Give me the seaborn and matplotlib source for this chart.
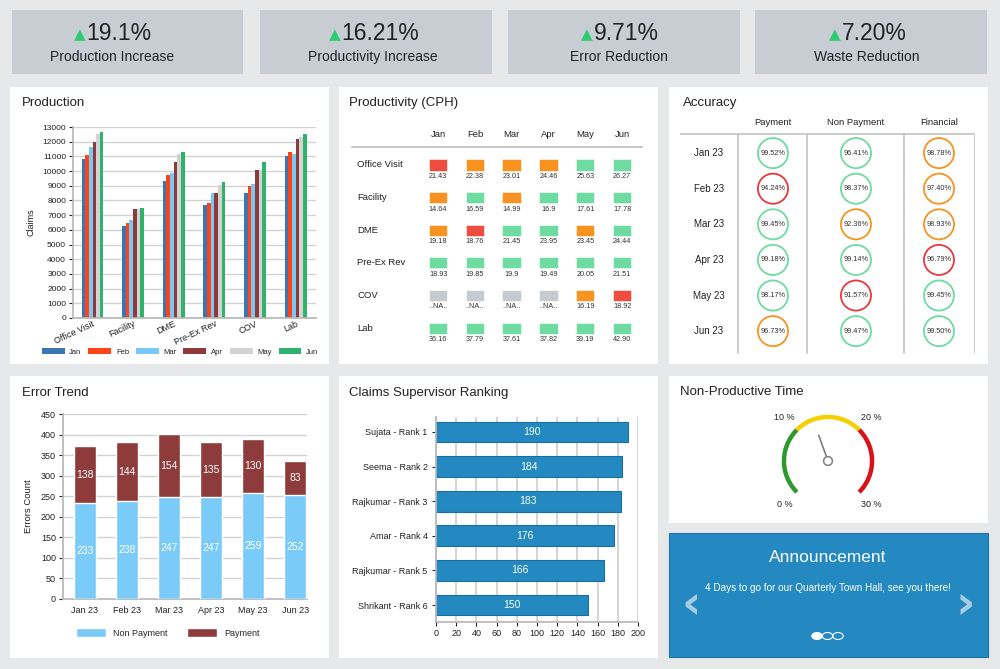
import numpy as np
import pandas as pd
import matplotlib
matplotlib.use('Agg')
import matplotlib.pyplot as plt
from matplotlib.patches import Rectangle, Patch, Circle
from matplotlib.text import Annotation
import seaborn as sns

W, H = 1000, 669

# KPI strip
kpi_values = ['19.1%', '16.21%', '9.71%', '7.20%']
kpi_labels = ['Production Increase', 'Productivity Increase', 'Error Reduction', 'Waste Reduction']

# Production (claims)
prod_categories = ['Office Visit', 'Facility', 'DME', 'Pre-Ex Rev', 'COV', 'Lab']
months = ['Jan', 'Feb', 'Mar', 'Apr', 'May', 'Jun']
prod_jan = [10800, 6250, 9300, 7700, 8500, 11000]
prod_feb = [11100, 6500, 9750, 7800, 9000, 11300]
prod_mar = [11650, 6700, 9900, 8500, 9150, 11150]
prod_apr = [12000, 7450, 10600, 8500, 10100, 12150]
prod_may = [12500, 7400, 11150, 9050, 10100, 12300]
prod_jun = [12650, 7500, 11300, 9250, 10650, 12500]
prod_colors = ['#3b76b3', '#ff4316', '#79c9f7', '#8e3a3b', '#d3d3d3', '#2fb26b']

# Productivity (CPH), None = ..NA..
cph_rows = ['Office Visit', 'Facility', 'DME', 'Pre-Ex Rev', 'COV', 'Lab']
cph_office = ['21.43', '22.38', '23.01', '24.46', '25.63', '26.27']
cph_facility = ['14.64', '16.59', '14.99', '16.9', '17.61', '17.78']
cph_dme = ['19.18', '18.76', '21.45', '23.95', '23.45', '24.44']
cph_preex = ['18.93', '19.85', '19.9', '19.49', '20.05', '21.51']
cph_cov = [None, None, None, None, '16.19', '18.92']
cph_lab = ['36.16', '37.79', '37.61', '37.82', '39.19', '42.90']
cph_status_office = ['r', 'o', 'o', 'o', 'g', 'g']
cph_status_facility = ['o', 'g', 'o', 'g', 'g', 'g']
cph_status_dme = ['o', 'r', 'g', 'g', 'o', 'g']
cph_status_preex = ['g', 'g', 'g', 'g', 'g', 'g']
cph_status_cov = ['n', 'n', 'n', 'n', 'o', 'r']
cph_status_lab = ['g', 'g', 'g', 'g', 'g', 'g']
cph_palette = {'r': '#ef4b3e', 'o': '#f8931f', 'g': '#6edba1', 'n': '#c6cbd2'}

# Accuracy
acc_months = ['Jan 23', 'Feb 23', 'Mar 23', 'Apr 23', 'May 23', 'Jun 23']
acc_columns = ['Payment', 'Non Payment', 'Financial']
acc_payment = [99.52, 94.24, 99.45, 99.18, 98.17, 96.73]
acc_non_payment = [96.41, 98.37, 92.36, 99.14, 91.57, 99.47]
acc_financial = [98.78, 97.40, 98.93, 96.79, 99.45, 99.50]
acc_status_payment = ['g', 'r', 'g', 'g', 'g', 'o']
acc_status_non_payment = ['g', 'g', 'o', 'g', 'r', 'g']
acc_status_financial = ['o', 'o', 'o', 'r', 'g', 'g']
acc_palette = {'r': '#e8383d', 'o': '#f7931e', 'g': '#6edba1'}

# Error trend
err_months = ['Jan 23', 'Feb 23', 'Mar 23', 'Apr 23', 'May 23', 'Jun 23']
err_non_payment = [233, 238, 247, 247, 259, 252]
err_payment = [138, 144, 154, 135, 130, 83]

# Supervisor ranking
rank_names = ['Sujata - Rank 1', 'Seema - Rank 2', 'Rajkumar - Rank 3',
              'Amar - Rank 4', 'Rajkumar - Rank 5', 'Shrikant - Rank 6']
rank_scores = [190, 184, 183, 176, 166, 150]

# Gauge
gauge_bands = [0, 10, 20, 30]
gauge_colors = ['#2e9a2e', '#f5d000', '#d8121b']
gauge_value = 12.8

sns.set_theme(style='white')
plt.rcParams['font.family'] = ['Liberation Sans', 'DejaVu Sans']
TXT = '#222222'

fig = plt.figure(figsize=(W / 100, H / 100), dpi=100)
fig.patch.set_facecolor('#e7e8ea')


def rect(x0, y0, x1, y1):
    """pixel box -> figure fraction"""
    return [x0 / W, 1 - y1 / H, (x1 - x0) / W, (y1 - y0) / H]


def box(x0, y0, x1, y1, color, ec='none'):
    r = rect(x0, y0, x1, y1)
    fig.add_artist(Rectangle((r[0], r[1]), r[2], r[3], transform=fig.transFigure,
                             facecolor=color, edgecolor=ec, lw=0.8, zorder=-1))


def ftext(x, y, s, **kw):
    return fig.text(x / W, 1 - y / H, s, **kw)


def new_ax(x0, y0, x1, y1):
    ax = fig.add_axes(rect(x0, y0, x1, y1))
    ax.patch.set_alpha(0)
    return ax


# ---- KPI boxes ----
kpi_boxes = [(12, 243), (260, 492), (508, 740), (755, 987)]
kpi_centers = [112, 373, 619, 867]
for (x0, x1), cx, val, lab in zip(kpi_boxes, kpi_centers, kpi_values, kpi_labels):
    box(x0, 10, x1, 74, '#c7cdd3')
    t = ftext(cx + 7, 33, val, ha='center', va='center', fontsize=16.5, color=TXT)
    fig.add_artist(Annotation('▲', xy=(-0.01, 0.42), xycoords=t, ha='right', va='center',
                              fontsize=11, color='#2ecc71', family='DejaVu Sans'))
    ftext(cx, 57, lab, ha='center', va='center', fontsize=10, color=TXT)

# ---- panels ----
for p in [(10, 87, 329, 364), (339, 87, 658, 364), (669, 87, 988, 364),
          (10, 376, 329, 658), (339, 376, 658, 658), (669, 376, 988, 523)]:
    box(*p, 'white')
box(669, 533, 988, 657, '#2389c0', ec='#1c78ab')

ftext(22, 103, 'Production', fontsize=9.5, va='center', color=TXT)
ftext(349, 103, 'Productivity (CPH)', fontsize=9.5, va='center', color=TXT)
ftext(683, 103, 'Accuracy', fontsize=9.5, va='center', color=TXT)
ftext(22, 393, 'Error Trend', fontsize=9.5, va='center', color=TXT)
ftext(349, 393, 'Claims Supervisor Ranking', fontsize=9.5, va='center', color=TXT)
ftext(680, 392, 'Non-Productive Time', fontsize=9.5, va='center', color=TXT)

# ---- Production ----
ax = new_ax(73, 127, 316, 318)
prod_df = pd.DataFrame({'category': np.repeat(prod_categories, len(months)),
                        'month': months * len(prod_categories),
                        'claims': np.ravel(np.column_stack(
                            [prod_jan, prod_feb, prod_mar, prod_apr, prod_may, prod_jun]))})
sns.barplot(data=prod_df, x='category', y='claims', hue='month', palette=prod_colors,
            saturation=1, width=0.54, linewidth=0, legend=False, ax=ax, zorder=2)
ax.set_ylim(0, 13000)
ax.set_xlim(-0.48, 5.5)
ax.set_yticks(range(0, 13001, 1000))
ax.yaxis.grid(True, color='#d2d2d2', lw=1, zorder=0)
ax.set_axisbelow(True)
ax.tick_params(axis='y', labelsize=6, colors=TXT, length=3, width=0.8, pad=2, left=True)
ax.tick_params(axis='x', labelsize=6.5, colors=TXT, length=0, pad=1)
for lbl in ax.get_xticklabels():
    lbl.set_rotation(25)
    lbl.set_ha('right')
    lbl.set_rotation_mode('anchor')
for s in ['top', 'right']:
    ax.spines[s].set_visible(False)
for s in ['left', 'bottom']:
    ax.spines[s].set_color('#b8b8b8')
ax.set_xlabel('')
ax.set_ylabel('Claims', fontsize=6.5, color=TXT, labelpad=5)
handles = [Patch(facecolor=c, edgecolor='none', label=m) for m, c in zip(months, prod_colors)]
fig.legend(handles=handles, loc='center', bbox_to_anchor=(180 / W, 1 - 352 / H), ncol=6,
           fontsize=5.5, frameon=False, handlelength=3.0, handleheight=0.8,
           columnspacing=0.9, handletextpad=0.6)

# ---- Productivity table ----
ax = new_ax(352, 118, 646, 352)
ax.set_xlim(-2.34, 5.65)
ax.set_ylim(5.7, -1.47)
ax.axis('off')
cph_vals = [cph_office, cph_facility, cph_dme, cph_preex, cph_cov, cph_lab]
cph_stat = [cph_status_office, cph_status_facility, cph_status_dme,
            cph_status_preex, cph_status_cov, cph_status_lab]
for c, m in enumerate(months):
    ax.text(c, -0.95, m, ha='center', va='center', fontsize=6.8, color=TXT)
ax.plot([-2.34, 5.55], [-0.58, -0.58], color='#c8c8c8', lw=1.5, clip_on=False)
for r, name in enumerate(cph_rows):
    ax.text(-2.2, r - 0.03, name, ha='left', va='center', fontsize=6.8, color=TXT)
    for c in range(len(months)):
        col = cph_palette[cph_stat[r][c]]
        ax.add_patch(Rectangle((c - 0.25, r - 0.2), 0.5, 0.34, facecolor=col,
                               edgecolor='white', lw=0.4))
        v = cph_vals[r][c]
        ax.text(c, r + 0.32, '..NA..' if v is None else v, ha='center', va='center',
                fontsize=5.2, color='#333333')

# ---- Accuracy table ----
ax = new_ax(680, 110, 975, 355)
ax.set_xlim(-1.12, 2.434)
ax.set_ylim(5.67, -1.21)
ax.axis('off')
for c, name in enumerate(acc_columns):
    ax.text(c, -0.87, name, ha='center', va='center', fontsize=6.8, color=TXT)
ax.plot([-1.12, 2.434], [-0.53, -0.53], color='#c8c8c8', lw=1.3)
for xv in [-0.42, 0.41, 1.58, 2.43]:
    ax.plot([xv, xv], [-0.53, 5.6], color='#c8c8c8', lw=1.3)
acc_vals = [acc_payment, acc_non_payment, acc_financial]
acc_stat = [acc_status_payment, acc_status_non_payment, acc_status_financial]
for r, m in enumerate(acc_months):
    ax.text(-0.77, r, m, ha='center', va='center', fontsize=7, color=TXT)
for c in range(3):
    ax.scatter(np.full(6, c), np.arange(6), s=470, facecolors='white',
               edgecolors=[acc_palette[s] for s in acc_stat[c]], linewidths=1.3, zorder=3)
    for r, v in enumerate(acc_vals[c]):
        ax.text(c, r, f'{v:.2f}%', ha='center', va='center', fontsize=5.3,
                color='#333333', zorder=4)

# ---- Error trend ----
ax = new_ax(63, 414, 307, 599)
totals = [a + b for a, b in zip(err_non_payment, err_payment)]
sns.barplot(x=err_months, y=totals, color='#8e3b3b', saturation=1, width=0.52, ax=ax, zorder=2)
sns.barplot(x=err_months, y=err_non_payment, color='#7acbf8', saturation=1, width=0.52,
            ax=ax, zorder=3)
for i, (a, b) in enumerate(zip(err_non_payment, err_payment)):
    ax.text(i, a / 2, str(a), ha='center', va='center', color='white', fontsize=7.5, zorder=4)
    ax.text(i, a + b / 2, str(b), ha='center', va='center', color='white', fontsize=7.5,
            zorder=4)
ax.set_ylim(0, 450)
ax.set_xlim(-0.52, 5.28)
ax.set_yticks(range(0, 451, 50))
ax.yaxis.grid(True, color='#d2d2d2', lw=1)
ax.set_axisbelow(True)
ax.tick_params(axis='y', labelsize=6.5, colors=TXT, length=3, width=0.8, pad=2, left=True)
ax.tick_params(axis='x', labelsize=6.5, colors=TXT, length=0, pad=5)
for s in ['top', 'right']:
    ax.spines[s].set_visible(False)
for s in ['left', 'bottom']:
    ax.spines[s].set_color('#b8b8b8')
ax.set_ylabel('Errors Count', fontsize=6.8, color=TXT, labelpad=6)
handles = [Patch(facecolor='#7acbf8', label='Non Payment'),
           Patch(facecolor='#8e3b3b', label='Payment')]
fig.legend(handles=handles, loc='center', bbox_to_anchor=(168 / W, 1 - 633 / H), ncol=2,
           fontsize=6.5, frameon=False, handlelength=3.3, handleheight=1.1,
           columnspacing=2.2, handletextpad=0.8)

# ---- Supervisor ranking ----
ax = new_ax(436, 417, 638, 622)
sns.barplot(x=rank_scores, y=rank_names, orient='h', color='#2389c0', saturation=1,
            width=0.6, edgecolor='#1b6e9e', linewidth=0.8, ax=ax, zorder=2)
for i, v in enumerate(rank_scores):
    ax.text(v / 2, i, str(v), ha='center', va='center', color='white', fontsize=7.5, zorder=4)
ax.set_xlim(0, 200)
ax.set_ylim(5.49, -0.43)
ax.set_xticks(range(0, 201, 20))
ax.xaxis.grid(True, color='#d2d2d2', lw=1.3)
ax.set_axisbelow(True)
ax.tick_params(axis='x', labelsize=6.5, colors=TXT, length=3, width=0.8, pad=2, bottom=True)
ax.tick_params(axis='y', labelsize=6.5, colors=TXT, length=3, width=0.8, pad=3, left=True)
for s in ['top', 'right']:
    ax.spines[s].set_visible(False)
for s in ['left', 'bottom']:
    ax.spines[s].set_color('#b8b8b8')
ax.set_xlabel('')
ax.set_ylabel('')

# ---- Gauge ----
ax = new_ax(758, 391, 898, 531)
ax.set_xlim(-1.59, 1.59)
ax.set_ylim(-1.59, 1.59)
ax.set_aspect('equal')
ax.axis('off')
gmax = gauge_bands[-1]


def g_angle(v):
    return np.deg2rad(225 - 270 * v / gmax)


for lo, hi, col in zip(gauge_bands[:-1], gauge_bands[1:], gauge_colors):
    th = np.linspace(g_angle(lo), g_angle(hi), 60)
    ax.plot(np.cos(th), np.sin(th), color=col, lw=3.2, solid_capstyle='butt')
for v in gauge_bands:
    th = g_angle(v)
    ax.text(1.4 * np.cos(th), 1.4 * np.sin(th), f'{v} %', ha='center', va='center',
            fontsize=6.5, color=TXT)
th = g_angle(gauge_value)
ax.plot([0.1 * np.cos(th), 0.62 * np.cos(th)], [0.1 * np.sin(th), 0.62 * np.sin(th)],
        color='#7f7f7f', lw=1.2)
ax.add_patch(Circle((0, 0), 0.1, facecolor='white', edgecolor='#7f7f7f', lw=1.1, zorder=3))

# ---- Announcement ----
ftext(828, 558, 'Announcement', ha='center', va='center', fontsize=12.5, color='white')
ftext(828, 588, '4 Days to go for our Quarterly Town Hall, see you there!', ha='center',
      va='center', fontsize=7.2, color='white')
ftext(691, 605, '‹', ha='center', va='center', fontsize=34, color='#a6cde4',
      family='DejaVu Sans', weight='bold')
ftext(965, 605, '›', ha='center', va='center', fontsize=34, color='#a6cde4',
      family='DejaVu Sans', weight='bold')
for i, fc in enumerate(['white', 'none', 'none']):
    cx, cy = 817 + 10.5 * i, 636
    fig.add_artist(Circle((cx / W, 1 - cy / H), 5.2 / W, transform=fig.transFigure,
                          facecolor=fc, edgecolor='white', lw=0.8))

fig.savefig('out.png', dpi=100)
